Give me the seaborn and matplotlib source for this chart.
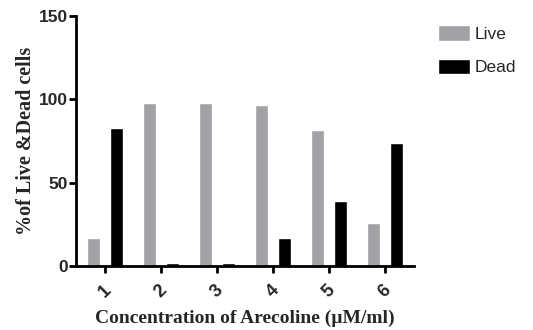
import matplotlib
matplotlib.use("Agg")
import matplotlib.pyplot as plt
import seaborn as sns
import pandas as pd

# values
concentrations = ["1", "2", "3", "4", "5", "6"]
live = [16.5, 97.5, 97.5, 96.8, 81.8, 25.5]
dead = [82.5, 1.5, 1.5, 16.5, 39.0, 73.5]
series = ["Live", "Dead"]
y_ticks = [0, 50, 100, 150]

df = pd.DataFrame({
    "conc": concentrations * 2,
    "value": live + dead,
    "status": [series[0]] * len(live) + [series[1]] * len(dead),
})

sns.set_style("ticks")
plt.rcParams["font.family"] = ["Liberation Sans", "DejaVu Sans"]

fig = plt.figure(figsize=(5.33, 3.30), dpi=100)
ax = fig.add_axes([0.1426, 0.194, 0.634, 0.7575])

sns.barplot(data=df, x="conc", y="value", hue="status", hue_order=series,
            palette={"Live": "#a1a1a6", "Dead": "#000000"},
            width=0.8, gap=0.42, saturation=1, ax=ax, legend=True)

ax.set_ylim(0, 150)
ax.set_xlim(-0.52, 5.52)
ax.set_yticks(y_ticks)
sns.despine(ax=ax)
for side in ["left", "bottom"]:
    ax.spines[side].set_linewidth(2)
    ax.spines[side].set_color("black")
ax.tick_params(axis="both", width=2, length=5, color="black")
ax.tick_params(axis="y", labelsize=12.5, pad=1)
ax.tick_params(axis="x", labelsize=13, pad=6)
for lbl in ax.get_yticklabels():
    lbl.set_fontweight("bold")
for lbl in ax.get_xticklabels():
    lbl.set_fontweight("bold")
    lbl.set_rotation(45)
    lbl.set_ha("center")

ax.set_xlabel("Concentration of Arecoline (\u00b5M/ml)", family=["Liberation Serif", "DejaVu Serif"],
              fontweight="bold", fontsize=14, labelpad=7)
ax.set_ylabel("%of Live &Dead cells", family=["Liberation Serif", "DejaVu Serif"],
              fontweight="bold", fontsize=14.5, labelpad=2)

leg = ax.legend(loc="upper left", bbox_to_anchor=(1.05, 0.99), frameon=False,
                fontsize=12.5, handlelength=1.85, handleheight=1.0,
                handletextpad=0.3, labelspacing=0.95, borderaxespad=0)

fig.savefig("out.png", dpi=100)
